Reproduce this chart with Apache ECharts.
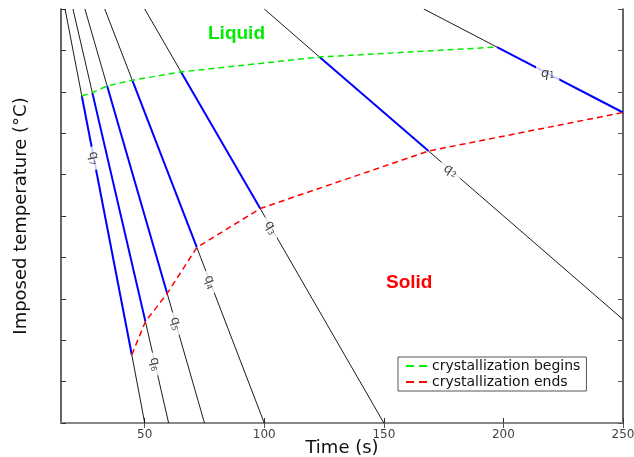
<!DOCTYPE html>
<html><head><meta charset="utf-8">
<script src="https://cdn.jsdelivr.net/npm/echarts@6/dist/echarts.min.js"></script>
<style>html,body{margin:0;padding:0;background:#fff}#c{width:634px;height:457px}</style>
</head><body><div id="c"></div>
<script>
// ---- data ----
const lineNames = ['1','2','3','4','5','6','7'];           // q subscripts
const lineStart = [[166.7,10],[100,10],[50,10],[33.3,10],[25,10],[20,10],[16.7,10]];
const lineEnd   = [[250,7.5],[250,2.5],[150,0],[100,0],[75,0],[60,0],[50,0]];
const beginTime = [197.3,123.1,65.2,44.8,34.3,28.1,23.7];  // crystallization begins
const beginTemp = [9.08,8.84,8.48,8.28,8.14,7.98,7.9];
const endTime   = [250,168.7,98.3,71.8,59.4,50.3,44.6];    // crystallization ends
const endTemp   = [7.5,6.57,5.18,4.24,3.13,2.45,1.65];
const labelTime = [218.5,178,102.8,77.3,63,54.3,28.7];
const xTicks = [50,100,150,200,250];

// ---- styles ----
const FONT = 'DejaVu Sans';
const BLUE = '#0000ff', GREEN = '#00ee00', RED = '#ff0000';
const labelRotateOverride = [0, -22, null, null, null, null, null];
const labelItalic = [true, true, false, false, false, false, false];
const DASH_ICON = 'path://M0,0H8V2H0Z M13,0H21V2H13Z';

function onLine(i, t) {
  const [x0,y0] = lineStart[i], [x1,y1] = lineEnd[i];
  return y0 + (y1 - y0) * (t - x0) / (x1 - x0);
}

const series = [];
for (let i = 0; i < lineNames.length; i++) {
  const b = [beginTime[i], beginTemp[i]], e = [endTime[i], endTemp[i]];
  series.push({type:'line', name:'k'+i, data:[lineStart[i], b], symbol:'none', silent:true,
    lineStyle:{color:'#000', width:0.9}, z:2, animation:false});
  series.push({type:'line', name:'k2'+i, data:[e, lineEnd[i]], symbol:'none', silent:true,
    lineStyle:{color:'#000', width:0.9}, z:2, animation:false});
  series.push({type:'line', name:'b'+i, data:[b, e], symbol:'none', silent:true,
    lineStyle:{color:BLUE, width:2}, z:3, animation:false});
}
const beginPts = beginTime.map((t,i)=>[t, beginTemp[i]]).sort((a,b)=>a[0]-b[0]);
const endPts = endTime.map((t,i)=>[t, endTemp[i]]).sort((a,b)=>a[0]-b[0]);
series.push({type:'line', name:'crystallization begins', data:beginPts, symbol:'none',
  lineStyle:{color:GREEN, width:1.5, type:[6,4]}, itemStyle:{color:GREEN}, z:4, animation:false});
series.push({type:'line', name:'crystallization ends', data:endPts, symbol:'none',
  lineStyle:{color:RED, width:1.5, type:[6,4]}, itemStyle:{color:RED}, z:4, animation:false});
series.push({type:'scatter', id:'labels', name:'labels', data:[], symbolSize:1,
  itemStyle:{color:'rgba(0,0,0,0)'}, z:6, animation:false});

const option = {
  animation:false,
  grid:{left:61, top:9, right:11, bottom:34, containLabel:false, outerBoundsMode:'none'},
  xAxis:[
    {type:'value', min:15, max:250, position:'bottom',
     name:'Time (s)', nameLocation:'middle', nameGap:25, nameMoveOverlap:false,
     nameTextStyle:{fontFamily:FONT, fontSize:18, color:'#111', verticalAlign:'middle'},
     axisLine:{lineStyle:{color:'#333', width:1.5}},
     axisTick:{inside:true, length:5, customValues:xTicks, lineStyle:{color:'#333'}},
     axisLabel:{customValues:xTicks, fontFamily:FONT, fontSize:12, color:'#444', margin:6},
     splitLine:{show:false}},
    {type:'value', min:15, max:250, position:'top',
     axisLine:{lineStyle:{color:'#888', width:2}},
     axisTick:{inside:true, length:5, customValues:xTicks, lineStyle:{color:'#555'}},
     axisLabel:{show:false}, splitLine:{show:false}}
  ],
  yAxis:[
    {type:'value', min:0, max:10, interval:1, position:'left',
     name:'Imposed temperature (°C)', nameLocation:'middle', nameGap:31,
     nameTextStyle:{fontFamily:FONT, fontSize:18, color:'#111'},
     axisLine:{show:true, lineStyle:{color:'#333', width:1.5}},
     axisTick:{inside:true, length:5, lineStyle:{color:'#333'}},
     axisLabel:{show:false}, splitLine:{show:false}},
    {type:'value', min:0, max:10, interval:1, position:'right',
     axisLine:{show:true, lineStyle:{color:'#333', width:1.5}},
     axisTick:{inside:true, length:5, lineStyle:{color:'#555'}},
     axisLabel:{show:false}, splitLine:{show:false}}
  ],
  legend:{data:[{name:'crystallization begins', icon:DASH_ICON},
                {name:'crystallization ends', icon:DASH_ICON}],
    orient:'vertical', left:398, top:357, padding:[1,6,1,8], itemGap:0,
    itemWidth:21, itemHeight:2,
    borderColor:'#555', borderWidth:1, backgroundColor:'#fff', borderRadius:0,
    textStyle:{fontFamily:FONT, fontSize:14, color:'#111', lineHeight:16}},
  graphic:[
    {type:'text', left:208, top:24, style:{text:'Liquid', fill:GREEN, font:'bold 19px "Liberation Sans", Arial'}},
    {type:'text', left:386, top:273, style:{text:'Solid', fill:RED, font:'bold 19px "Liberation Sans", Arial'}}
  ],
  series:series
};
const chart = echarts.init(document.getElementById('c'), null, {renderer:'canvas'});
chart.setOption(option);

// label points on each cooling line, rotated along the line direction
const labelData = labelTime.map((t,i)=>{
  const p0 = chart.convertToPixel({xAxisIndex:0, yAxisIndex:0}, lineStart[i]);
  const p1 = chart.convertToPixel({xAxisIndex:0, yAxisIndex:0}, lineEnd[i]);
  let ang = -Math.atan2(p1[1]-p0[1], p1[0]-p0[0]) * 180 / Math.PI;
  if (labelRotateOverride[i] !== null) ang = labelRotateOverride[i];
  return {value:[t, onLine(i,t)], label:{show:true, position:'inside', rotate:ang,
    formatter:'{q|q}{s|' + lineNames[i] + '}',
    backgroundColor:'#fff', padding:[1,5,1,5],
    rich:{q:{fontFamily:FONT, fontSize:13, color:'#111', fontStyle: labelItalic[i]?'italic':'normal'},
          s:{fontFamily:FONT, fontSize:8, color:'#111', verticalAlign:'bottom', padding:[6,0,0,0]}}}};
});
chart.setOption({series:[{id:'labels', data:labelData}]});
</script></body></html>
